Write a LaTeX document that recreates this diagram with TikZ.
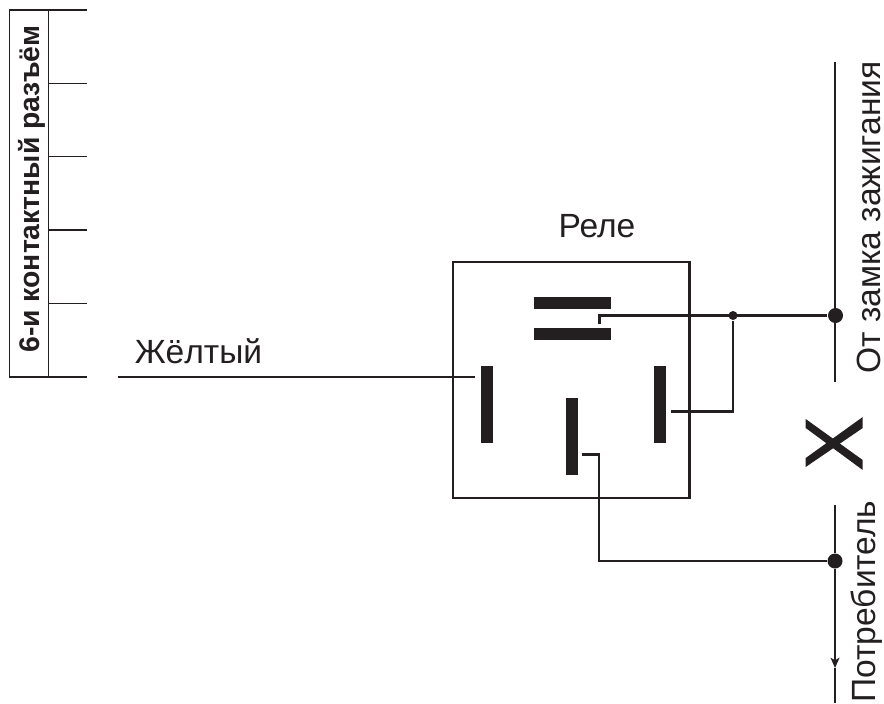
\documentclass[tikz,border=0pt]{standalone}
\usepackage{fontspec}
\setmainfont{Liberation Sans}
\usetikzlibrary{arrows.meta}
\definecolor{ink}{HTML}{231F20}
\tikzset{
    wire/.style={draw=ink,line width=0.65pt},
    thinwire/.style={draw=ink,line width=0.4pt},
    blade/.style={fill=ink,inner sep=0pt,minimum width=#1,minimum height=0.12cm},
    upblade/.style={fill=ink,inner sep=0pt,minimum width=0.12cm,minimum height=0.77cm},
    bigdot/.style={circle,fill=ink,inner sep=0pt,minimum size=0.15cm},
    smalldot/.style={circle,fill=ink,inner sep=0pt,minimum size=0.09cm},
    caption/.style={text=ink,font=\fontsize{9.55}{11}\selectfont,inner sep=0pt}
}
\begin{document}
\begin{tikzpicture}
    \useasboundingbox (0,0) rectangle (8.84,7.03) ;
    % connector
    \draw[thinwire] (0.095,3.26) rectangle (0.485,6.93) ;
    \foreach \pin/\ypin in {a/6.93,b/6.195,c/5.465,d/4.73,e/3.995,f/3.26} {
        \coordinate (in\pin) at (0.485,\ypin) ;
        \coordinate (out\pin) at (0.87,\ypin) ;
        \draw[thinwire] (in\pin) -- (out\pin) ;
    }
    \node[caption,rotate=90,font=\fontsize{8.07}{9}\selectfont\bfseries] (connlabel) at (0.315,5.14) {6-и контактный разъём} ;
    % relay
    \node[draw=ink,line width=0.65pt,minimum width=2.365cm,minimum height=2.36cm,inner sep=0pt] (relay) at (5.7125,3.23) {} ;
    \node[caption] (relaylabel) at (5.97,4.77) {Реле} ;
    \node[blade=0.77cm] (topbar) at (5.725,4.00) {} ;
    \node[blade=0.77cm] (lowbar) at (5.725,3.69) {} ;
    \node[upblade] (leftblade) at (4.87,2.985) {} ;
    \node[upblade] (midblade) at (5.715,2.665) {} ;
    \node[upblade] (rightblade) at (6.60,2.985) {} ;
    % feed lines
    \coordinate (feedtop) at (8.35,6.41) ;
    \coordinate (feedend) at (8.35,3.21) ;
    \coordinate (loadtop) at (8.35,1.98) ;
    \coordinate (loadtip) at (8.35,0.35) ;
    \coordinate (loadend) at (8.35,0) ;
    \node[bigdot] (feeddot) at (8.355,3.875) {} ;
    \node[bigdot] (loaddot) at (8.35,1.42) {} ;
    \node[smalldot] (joint) at (7.33,3.875) {} ;
    \draw[wire] (feedtop) -- (feedend) ;
    \draw[wire] (loadtop) -- (loaddot) ;
    \draw[wire,-{Stealth[inset=0.7pt,length=2.9pt,width=2.5pt]}] (loaddot) -- (loadtip) ;
    \draw[wire] (loadtip) -- (loadend) ;
    % wires to the blades
    \coordinate (yellowstart) at (1.18,3.26) ;
    \coordinate (yellowend) at (4.75,3.26) ;
    \draw[wire] (yellowstart) -- (yellowend) ;
    \coordinate (barend) at (5.995,3.79) ;
    \draw[wire] (barend) |- (feeddot) ;
    \coordinate (rightend) at (6.71,2.915) ;
    \draw[wire] (rightend) -| (joint) ;
    \coordinate (midend) at (5.815,2.485) ;
    \draw[wire] (midend) -- (5.99,2.485) |- (loaddot) ;
    % cross
    \fill[ink] (8.057,2.84) -- (8.627,2.43) -- (8.627,2.33) -- (8.057,2.75) -- cycle ;
    \fill[ink] (8.057,2.36) -- (8.627,2.75) -- (8.627,2.86) -- (8.057,2.45) -- cycle ;
    % labels
    \node[caption] (yellowlabel) at (1.985,3.52) {Жёлтый} ;
    \node[caption,rotate=90] (feedlabel) at (8.685,4.855) {От замка зажигания} ;
    \node[caption,rotate=90] (loadlabel) at (8.67,1.015) {Потребитель} ;
\end{tikzpicture}
\end{document}
